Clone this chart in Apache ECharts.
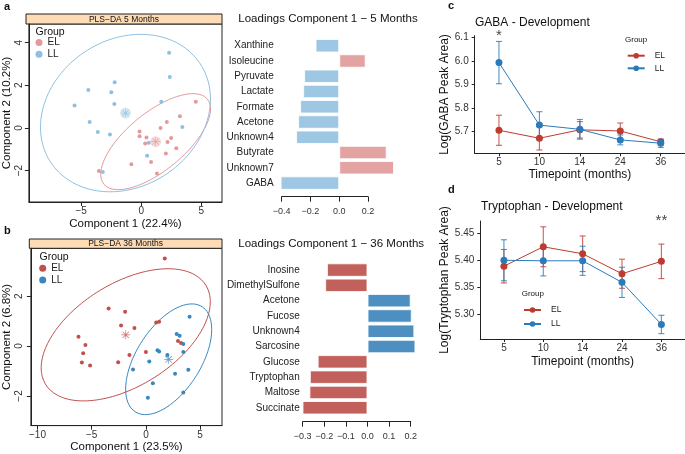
<!DOCTYPE html>
<html><head><meta charset="utf-8">
<script src="https://cdn.jsdelivr.net/npm/echarts@6/dist/echarts.min.js"></script>
<style>html,body{margin:0;padding:0;background:#fff}#c{width:685px;height:454px}</style>
</head><body><div id="c"></div>
<script>
// ---------------- DATA ----------------
// Panel a: PLS-DA 5 months (component 1, component 2)
const pls5_EL = [[4.54,1.23],[3.22,0.55],[2.13,0.28],[1.61,0.0],[-0.14,-0.17],[-0.14,-0.39],[0.44,-0.44],[0.33,-0.73],[2.49,-0.47],[2.19,-0.66],[2.92,-0.95],[2.05,-1.19],[0.82,-1.59],[-0.82,-1.70],[1.31,-2.13],[-3.52,-2.02]];
const pls5_LL = [[2.32,3.53],[2.38,2.39],[-2.21,2.14],[-4.40,1.78],[-2.49,1.67],[-2.24,1.13],[-5.55,1.05],[1.67,1.23],[-4.29,0.28],[-3.61,-0.19],[-2.60,-0.30],[3.42,0.05],[0.63,-0.69],[0.49,-1.30],[-3.20,-2.06]];
const pls5_centroid_EL = [1.20,-0.64];
const pls5_centroid_LL = [-1.31,0.70];
// confidence ellipses: centre, half-ranges along x / y and correlation
const pls5_ellipse_EL = {cx:1.20, cy:-0.64, sx:4.57, sy:2.25, r:0.68};
const pls5_ellipse_LL = {cx:-1.31, cy:0.70, sx:7.07, sy:3.69, r:0.18};

// Panel b: PLS-DA 36 months
const pls36_EL = [[1.74,3.51],[-3.44,1.51],[-1.92,1.38],[-2.29,0.82],[-1.06,0.72],[0.95,0.94],[1.22,0.97],[-6.22,0.37],[-5.58,0.04],[-5.79,-0.29],[-5.91,-0.66],[-5.15,-0.78],[-2.56,-0.65],[-1.52,-0.36],[0.0,-0.24],[2.96,0.20],[3.24,0.12]];
const pls36_LL = [[4.03,1.18],[2.84,0.48],[3.11,0.41],[3.45,0.08],[3.45,-0.24],[1.07,-0.17],[1.22,-0.22],[1.98,-0.36],[0.31,-0.62],[-1.19,-0.94],[2.69,-1.11],[3.91,-0.95],[0.64,-1.49],[3.45,-1.86],[0.18,-2.07]];
const pls36_centroid_EL = [-1.86,0.45];
const pls36_centroid_LL = [2.10,-0.53];
const pls36_ellipse_EL = {cx:-1.86, cy:0.45, sx:7.8, sy:2.65, r:0.5};
const pls36_ellipse_LL = {cx:2.10, cy:-0.53, sx:3.97, sy:2.22, r:0.54};

// Loadings component 1 - 5 months
const load5_names = ['Xanthine','Isoleucine','Pyruvate','Lactate','Formate','Acetone','Unknown4','Butyrate','Unknown7','GABA'];
const load5_values = [-0.165,0.184,-0.244,-0.251,-0.272,-0.286,-0.300,0.330,0.381,-0.408];
const load5_group = ['LL','EL','LL','LL','LL','LL','LL','EL','EL','LL'];
// Loadings component 1 - 36 months
const load36_names = ['Inosine','DimethylSulfone','Acetone','Fucose','Unknown4','Sarcosine','Glucose','Tryptophan','Maltose','Succinate'];
const load36_values = [-0.188,-0.196,0.200,0.205,0.217,0.222,-0.231,-0.267,-0.269,-0.301];
const load36_group = ['EL','EL','LL','LL','LL','LL','EL','EL','EL','EL'];

// Development panels
const timepoints = ['5','10','14','24','36'];
const gaba_EL_mean = [5.706,5.672,5.708,5.703,5.657];
const gaba_EL_se   = [0.064,0.050,0.035,0.034,0.008];
const gaba_LL_mean = [5.994,5.728,5.710,5.665,5.651];
const gaba_LL_se   = [0.090,0.057,0.042,0.021,0.018];
const trp_EL_mean = [5.389,5.425,5.412,5.375,5.398];
const trp_EL_se   = [0.031,0.037,0.033,0.027,0.032];
const trp_LL_mean = [5.400,5.399,5.399,5.359,5.281];
const trp_LL_se   = [0.038,0.028,0.027,0.028,0.017];
const gaba_sig = [{tp:0, y:6.108, text:'*'}];
const trp_sig  = [{tp:4, y:5.473, text:'**'}];

// ---------------- STYLE ----------------
const FONT = 'Liberation Sans';
const C5 = {EL:'#E39A9A', LL:'#8EC1E0'};
const C5bar = {EL:'#E4A3A3', LL:'#9DC7E2'};
const C36 = {EL:'#C0504D', LL:'#3A86BE'};
const C36bar = {EL:'#C2615B', LL:'#4D8FC1'};
const CL = {EL:'#BF3B30', LL:'#2B7BBA'};
const AX = '#222';
const minus = v => String(v).replace('-', '\u2212');
const dec = (v,d) => (Math.abs(v)<1e-9 ? (0).toFixed(d) : v.toFixed(d)).replace('-', '\u2212');
const ASTER = 'path://M-0.08,-1L0.08,-1L0.08,1L-0.08,1Z M-1,-0.08L1,-0.08L1,0.08L-1,0.08Z M-0.64,-0.76L0.76,0.64L0.64,0.76L-0.76,-0.64Z M0.64,-0.76L0.76,-0.64L-0.64,0.76L-0.76,0.64Z';

function ellipse(e){
  const pts=[]; const q=Math.sqrt(1-e.r*e.r);
  for(let i=0;i<=160;i++){const t=i/160*2*Math.PI; pts.push([e.cx+e.sx*Math.cos(t), e.cy+e.sy*(e.r*Math.cos(t)+q*Math.sin(t))]);}
  return pts;
}

function scatterAxes(gi, xr, yr, xt, yt, xname, yname, ymargin, ynameGap){
  const x = {gridIndex:gi, type:'value', min:xr[0], max:xr[1], splitLine:{show:false},
    axisLine:{show:true,onZero:false,lineStyle:{color:AX}},
    axisTick:{show:true,length:4,customValues:xt,lineStyle:{color:AX}},
    axisLabel:{customValues:xt,formatter:minus,fontSize:10,color:'#333',margin:4.5,fontFamily:FONT},
    name:xname,nameLocation:'middle',nameGap:14,nameTextStyle:{fontSize:11.5,color:'#111',fontFamily:FONT}};
  const y = {gridIndex:gi, type:'value', min:yr[0], max:yr[1], splitLine:{show:false},
    axisLine:{show:true,onZero:false,lineStyle:{color:AX}},
    axisTick:{show:true,length:4,customValues:yt,lineStyle:{color:AX}},
    axisLabel:{customValues:yt,formatter:minus,fontSize:10,color:'#333',margin:ymargin,rotate:90,fontFamily:FONT},
    name:yname,nameLocation:'middle',nameGap:ynameGap,nameTextStyle:{fontSize:11.5,color:'#111',fontFamily:FONT}};
  return [x,y];
}

function loadAxes(gi, min, max, interval, names, offset, lmargin, ymargin){
  const x = {gridIndex:gi, type:'value', min:min, max:max, interval:interval, offset:offset, splitLine:{show:false},
    axisLine:{show:true,onZero:false,lineStyle:{color:AX}},
    axisTick:{show:true,length:5,lineStyle:{color:AX}},
    axisLabel:{formatter:v=>dec(v,1),fontSize:9,color:'#333',margin:lmargin,fontFamily:FONT}};
  const y = {gridIndex:gi, type:'category', data:names, inverse:true,
    axisLine:{show:false}, axisTick:{show:false}, splitLine:{show:false},
    axisLabel:{fontSize:10,color:'#222',margin:ymargin,fontFamily:FONT}};
  return [x,y];
}

function devAxes(gi, yr, yt, yd, yname, ynameGap, xnameGap){
  const x = {gridIndex:gi, type:'value', min:-0.6, max:4.6, splitLine:{show:false},
    axisLine:{show:true,onZero:false,lineStyle:{color:AX}},
    axisTick:{show:true,length:3,customValues:[0,1,2,3,4],lineStyle:{color:AX}},
    axisLabel:{customValues:[0,1,2,3,4],formatter:v=>timepoints[Math.round(v)],fontSize:10,color:'#333',margin:4,fontFamily:FONT},
    name:'Timepoint (months)',nameLocation:'middle',nameGap:xnameGap,nameTextStyle:{fontSize:12,color:'#111',fontFamily:FONT}};
  const y = {gridIndex:gi, type:'value', min:yr[0], max:yr[1], splitLine:{show:false},
    axisLine:{show:true,onZero:false,lineStyle:{color:AX}},
    axisTick:{show:true,length:3,customValues:yt,lineStyle:{color:AX}},
    axisLabel:{customValues:yt,formatter:v=>v.toFixed(yd),fontSize:10,color:'#333',margin:6,fontFamily:FONT},
    name:yname,nameLocation:'middle',nameGap:ynameGap,nameTextStyle:{fontSize:12,color:'#111',fontFamily:FONT}};
  return [x,y];
}

const axA = scatterAxes(0,[-9.344,6.72],[-3.469,4.875],[-5,0,5],[-2,0,2,4],'Component 1 (22.4%)','Component 2 (10.2%)',5,11);
const axLA = loadAxes(1,-0.4,0.2,0.2,load5_names,6,10.5,8);
const axB = scatterAxes(2,[-10.61,7.02],[-3.19,3.92],[-10,-5,0,5],[-2,0,2],'Component 1 (23.5%)','Component 2 (6.8%)',7,15);
const axLB = loadAxes(3,-0.3,0.2,0.1,load36_names,6.3,10.8,3);
const axC = devAxes(4,[5.608,6.1085],[5.7,5.8,5.9,6.0,6.1],1,'Log(GABA Peak Area)',18,14.5);
const axD = devAxes(5,[5.254,5.4728],[5.30,5.35,5.40,5.45],2,'Log(Tryptophan Peak Area)',22,16.5);

const series = [];
function scatterPanel(gi, EL, LL, cEL, cLL, eEL, eLL, col, sfx, halo){
  series.push({type:'line',name:'ellEL'+gi,xAxisIndex:gi,yAxisIndex:gi,data:ellipse(eEL),showSymbol:false,symbol:'none',silent:true,lineStyle:{color:col.EL,width:1},z:1});
  series.push({type:'line',name:'ellLL'+gi,xAxisIndex:gi,yAxisIndex:gi,data:ellipse(eLL),showSymbol:false,symbol:'none',silent:true,lineStyle:{color:col.LL,width:1},z:1});
  series.push({type:'scatter',name:'EL'+sfx,xAxisIndex:gi,yAxisIndex:gi,data:EL,symbol:'circle',symbolSize:4,itemStyle:{color:col.EL,opacity:1},z:3});
  series.push({type:'scatter',name:'LL'+sfx,xAxisIndex:gi,yAxisIndex:gi,data:LL,symbol:'circle',symbolSize:4,itemStyle:{color:col.LL,opacity:1},z:3});
  if(halo){
    series.push({type:'scatter',name:'haloEL'+gi,xAxisIndex:gi,yAxisIndex:gi,data:[cEL],symbol:'circle',symbolSize:11,itemStyle:{color:col.EL,opacity:0.35},z:2});
    series.push({type:'scatter',name:'haloLL'+gi,xAxisIndex:gi,yAxisIndex:gi,data:[cLL],symbol:'circle',symbolSize:11,itemStyle:{color:col.LL,opacity:0.35},z:2});
  }
  series.push({type:'scatter',name:'cenEL'+gi,xAxisIndex:gi,yAxisIndex:gi,data:[cEL],symbol:ASTER,symbolSize:9,itemStyle:{color:col.EL},z:4});
  series.push({type:'scatter',name:'cenLL'+gi,xAxisIndex:gi,yAxisIndex:gi,data:[cLL],symbol:ASTER,symbolSize:9,itemStyle:{color:col.LL},z:4});
}
scatterPanel(0,pls5_EL,pls5_LL,pls5_centroid_EL,pls5_centroid_LL,pls5_ellipse_EL,pls5_ellipse_LL,C5,'',true);
scatterPanel(2,pls36_EL,pls36_LL,pls36_centroid_EL,pls36_centroid_LL,pls36_ellipse_EL,pls36_ellipse_LL,C36,' ',false);

function barPanel(gi, values, groups, col, bw){
  series.push({type:'bar',name:'load'+gi,xAxisIndex:gi,yAxisIndex:gi,clip:false,barWidth:bw,
    data:values.map((v,i)=>({value:v,itemStyle:{color:col[groups[i]]}})),
    itemStyle:{borderColor:'rgba(255,255,255,0.85)',borderWidth:1}});
}
barPanel(1,load5_values,load5_group,C5bar,13.5);
barPanel(3,load36_values,load36_group,C36bar,13.5);

function devPanel(gi, mEL, sEL, mLL, sLL, sfx, sig){
  [['EL',mEL,sEL],['LL',mLL,sLL]].forEach(([g,m,s])=>{
    const col = CL[g];
    series.push({type:'custom',name:'err'+g+gi,xAxisIndex:gi,yAxisIndex:gi,clip:false,z:2,
      data:m.map((v,i)=>[i, v-s[i], v+s[i]]), encode:{x:0,y:[1,2]},
      renderItem:(params,api)=>{
        const lo=api.coord([api.value(0),api.value(1)]), hi=api.coord([api.value(0),api.value(2)]);
        const w=3, st={stroke:col,lineWidth:1.1,opacity:0.8};
        return {type:'group',children:[
          {type:'line',shape:{x1:lo[0],y1:lo[1],x2:hi[0],y2:hi[1]},style:st},
          {type:'line',shape:{x1:lo[0]-w,y1:lo[1],x2:lo[0]+w,y2:lo[1]},style:st},
          {type:'line',shape:{x1:hi[0]-w,y1:hi[1],x2:hi[0]+w,y2:hi[1]},style:st}]};
      }});
    series.push({type:'line',name:g+sfx,xAxisIndex:gi,yAxisIndex:gi,data:m.map((v,i)=>[i,v]),
      symbol:'circle',symbolSize:7,showSymbol:true,lineStyle:{color:col,width:1},itemStyle:{color:col},z:3});
  });
  series.push({type:'scatter',name:'sig'+gi,xAxisIndex:gi,yAxisIndex:gi,clip:false,silent:true,
    data:sig.map(d=>({value:[d.tp,d.y],label:{formatter:d.text}})),symbolSize:1,itemStyle:{color:'rgba(0,0,0,0)'},
    label:{show:true,position:'inside',fontSize:15,color:'#111',fontFamily:FONT}});
}
devPanel(4,gaba_EL_mean,gaba_EL_se,gaba_LL_mean,gaba_LL_se,'  ',gaba_sig);
devPanel(5,trp_EL_mean,trp_EL_se,trp_LL_mean,trp_LL_se,'   ',trp_sig);

const tx = (x,y,text,font,opts) => Object.assign({type:'text',x:x,y:y,silent:true,
  style:Object.assign({text:text,font:font,fill:'#111',align:'left',textAlign:'left',verticalAlign:'middle',textVerticalAlign:'middle'},opts||{})});

const legendText = {fontSize:10,color:'#222',fontFamily:FONT,lineHeight:11.6};
const option = {
  animation:false,
  backgroundColor:'#fff',
  textStyle:{fontFamily:FONT},
  grid:[
    {left:26, top:24, width:196, height:178, show:true, borderColor:AX, borderWidth:1, backgroundColor:'transparent'},
    {left:281.7, top:38.1, width:86.3, height:152.6},
    {left:29.3, top:248.3, width:192.7, height:178.4, show:true, borderColor:AX, borderWidth:1, backgroundColor:'transparent'},
    {left:302.7, top:262.4, width:108, height:153},
    {left:474.7, top:35.7, width:228.3, height:117.6},
    {left:480.3, top:221, width:220.5, height:118}
  ],
  xAxis:[axA[0],axLA[0],axB[0],axLB[0],axC[0],axD[0]],
  yAxis:[axA[1],axLA[1],axB[1],axLB[1],axC[1],axD[1]],
  legend:[
    {data:['EL','LL'],left:35.5,top:36.8,orient:'vertical',padding:0,itemGap:0,icon:'circle',itemWidth:7,itemHeight:7,textStyle:legendText,formatter:n=>n.trim(),selectedMode:false},
    {data:['EL ','LL '],left:39.2,top:262.5,orient:'vertical',padding:0,itemGap:0,icon:'circle',itemWidth:7,itemHeight:7,textStyle:legendText,formatter:n=>n.trim(),selectedMode:false},
    {data:['EL  ','LL  '],left:626.7,top:49.4,orient:'vertical',padding:0,itemGap:0,itemWidth:17,itemHeight:7,textStyle:{fontSize:8.5,color:'#222',fontFamily:FONT,lineHeight:12.6,padding:[0,0,0,5]},formatter:n=>n.trim(),selectedMode:false},
    {data:['EL   ','LL   '],left:523,top:303,orient:'vertical',padding:0,itemGap:0,itemWidth:17,itemHeight:7,textStyle:{fontSize:8.5,color:'#222',fontFamily:FONT,lineHeight:14,padding:[0,0,0,5]},formatter:n=>n.trim(),selectedMode:false}
  ],
  graphic:[
    {type:'rect',shape:{x:26,y:14,width:196,height:10},style:{fill:'#FDDCB6',stroke:AX,lineWidth:1},silent:true},
    tx(124,19.2,'PLS\u2212DA 5 Months','8.5px '+FONT,{align:'center',textAlign:'center'}),
    {type:'rect',shape:{x:29.3,y:239,width:192.7,height:9.3},style:{fill:'#FDDCB6',stroke:AX,lineWidth:1},silent:true},
    tx(125.6,243.8,'PLS\u2212DA 36 Months','8.5px '+FONT,{align:'center',textAlign:'center'}),
    tx(35.5,32,'Group','10.5px '+FONT),
    tx(39.5,257.3,'Group','10.5px '+FONT),
    tx(238.3,19,'Loadings Component 1 \u2212 5 Months','11.5px '+FONT),
    tx(238.3,244,'Loadings Component 1 \u2212 36 Months','11.5px '+FONT),
    tx(475,22.7,'GABA - Development','12px '+FONT),
    tx(481,206.7,'Tryptophan - Development','12px '+FONT),
    tx(625,40,'Group','8px '+FONT),
    tx(521.7,294,'Group','8px '+FONT),
    tx(4,7,'a','bold 11px '+FONT),
    tx(4,231,'b','bold 11px '+FONT),
    tx(448,6,'c','bold 11px '+FONT),
    tx(448,190,'d','bold 11px '+FONT)
  ],
  series:series
};
const chart = echarts.init(document.getElementById('c'), null, {renderer:'canvas', width:685, height:454});
chart.setOption(option);
</script></body></html>
